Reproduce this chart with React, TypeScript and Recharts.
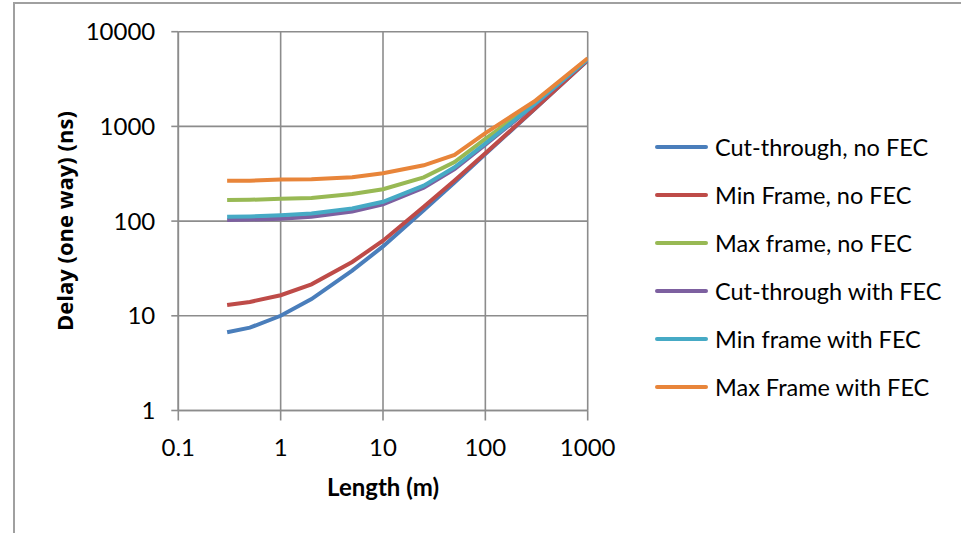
import { LineChart, Line, XAxis, YAxis, CartesianGrid, Legend } from "recharts";

const lengths = [0.3, 0.5, 1, 2, 5, 10, 25, 50, 100, 300, 1000];

const cutThroughNoFec = [6.7, 7.5, 10, 15, 30, 54, 130, 255, 510, 1505, 4990];
const minFrameNoFec = [13, 14, 16.5, 21.5, 37, 62, 142, 268, 520, 1520, 5000];
const maxFrameNoFec = [167, 168, 172, 175, 193, 217, 290, 420, 740, 1750, 5150];
const cutThroughFec = [103, 104, 106, 111, 126, 150, 225, 355, 640, 1680, 5080];
const minFrameFec = [111, 112, 115, 120, 136, 160, 237, 370, 660, 1700, 5100];
const maxFrameFec = [266, 267, 275, 276, 290, 320, 388, 500, 850, 1830, 5250];

const xTicks = [0.1, 1, 10, 100, 1000];
const yTicks = [1, 10, 100, 1000, 10000];

const series = [
  { key: "ct", name: "Cut-through, no FEC", values: cutThroughNoFec, color: "#4A7EBB" },
  { key: "mn", name: "Min Frame, no FEC", values: minFrameNoFec, color: "#BE4B48" },
  { key: "mx", name: "Max frame, no FEC", values: maxFrameNoFec, color: "#98B954" },
  { key: "ctf", name: "Cut-through with FEC", values: cutThroughFec, color: "#7D60A0" },
  { key: "mnf", name: "Min frame with FEC", values: minFrameFec, color: "#46AAC5" },
  { key: "mxf", name: "Max Frame with FEC", values: maxFrameFec, color: "#E8853A" },
];

const data = lengths.map((len, i) => {
  const row: Record<string, number> = { len };
  series.forEach((s) => {
    row[s.key] = s.values[i];
  });
  return row;
});

const font = "Lato, 'Open Sans', sans-serif";
const gridColor = "#8c8c8c";

function fmt(v: number) {
  return v < 1 ? String(v) : String(Math.round(v));
}

// legend keeps the series order (recharts would sort it by name)
function LegendList() {
  return (
    <div style={{ fontFamily: font, fontSize: 23.5, color: "#000" }}>
      {series.map((s) => (
        <div key={s.key} style={{ display: "flex", alignItems: "center", height: 48 }}>
          <div
            style={{
              width: 53,
              height: 4,
              borderRadius: 2,
              background: s.color,
              marginRight: 7,
            }}
          />
          <span>{s.name}</span>
        </div>
      ))}
    </div>
  );
}

export default function App() {
  return (
    <div
      style={{
        position: "absolute",
        left: 0,
        top: 0,
        width: 961,
        height: 533,
        background: "#fff",
        overflow: "hidden",
      }}
    >
      <div
        style={{
          position: "absolute",
          left: 13,
          top: 2,
          width: 960,
          height: 540,
          borderLeft: "2px solid #a0a0a0",
          borderTop: "2px solid #a0a0a0",
        }}
      />
      <LineChart
        width={961}
        height={533}
        data={data}
        margin={{ top: 31.7, right: 373.3, bottom: 32.5, left: 58.3 }}
        style={{ position: "absolute", left: 0, top: 0 }}
      >
        <CartesianGrid stroke={gridColor} strokeWidth={1.6} horizontalValues={yTicks} verticalValues={xTicks} />
        <XAxis
          dataKey="len"
          type="number"
          scale="log"
          domain={[0.1, 1000]}
          ticks={xTicks}
          tickFormatter={fmt}
          allowDataOverflow
          height={90}
          stroke={gridColor}
          strokeWidth={1.6}
          tickSize={10}
          tickMargin={18}
          tick={{ fill: "#000", fontSize: 24, fontFamily: font }}
          label={{
            value: "Length (m)",
            position: "insideTop",
            offset: 68,
            style: { fill: "#000", fontSize: 24, fontWeight: 700, fontFamily: font },
          }}
        />
        <YAxis
          type="number"
          scale="log"
          domain={[1, 10000]}
          ticks={yTicks}
          tickFormatter={fmt}
          allowDataOverflow
          width={120}
          stroke={gridColor}
          strokeWidth={1.6}
          tickSize={7}
          tickMargin={16}
          tick={{ fill: "#000", fontSize: 24, fontFamily: font }}
          label={{
            value: "Delay (one way) (ns)",
            angle: -90,
            position: "insideLeft",
            offset: 7,
            style: {
              fill: "#000",
              fontSize: 22,
              fontWeight: 700,
              fontFamily: "'Open Sans', sans-serif",
              textAnchor: "middle",
            },
          }}
        />
        <Legend
          layout="vertical"
          align="center"
          verticalAlign="middle"
          content={<LegendList />}
          wrapperStyle={{ left: 655, top: 123, width: 300 }}
        />
        {series.map((s) => (
          <Line
            key={s.key}
            dataKey={s.key}
            name={s.name}
            stroke={s.color}
            strokeWidth={4}
            dot={false}
            type="linear"
            isAnimationActive={false}
          />
        ))}
      </LineChart>
    </div>
  );
}
